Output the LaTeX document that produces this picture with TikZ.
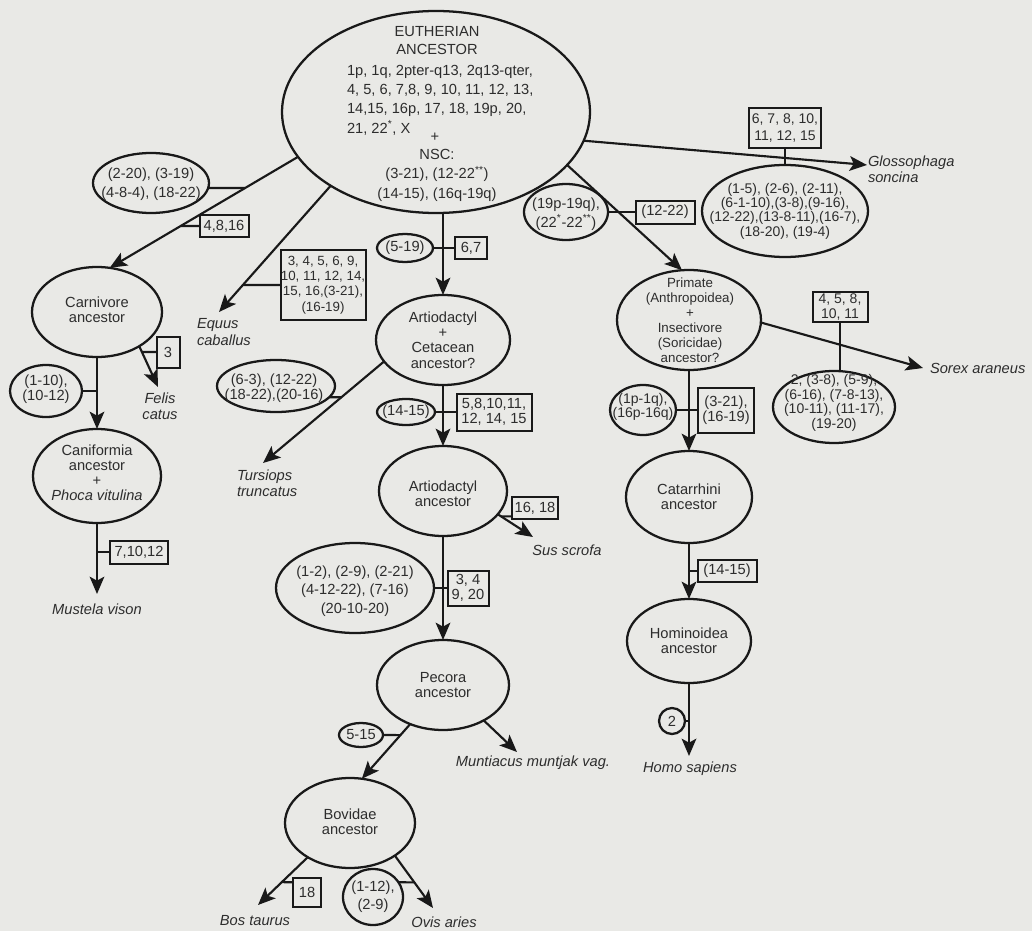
\documentclass[tikz,border=0pt]{standalone}
\usepackage{fontspec}
\setmainfont{Liberation Sans}
\usetikzlibrary{arrows.meta,shapes.geometric,calc}
\definecolor{bgc}{RGB}{233,233,230}
\definecolor{ink}{RGB}{25,25,25}
\definecolor{txt}{RGB}{45,45,45}
\newcommand\fntA{\fontsize{11}{11.5}\selectfont}
\newcommand\fntW{\fontsize{11}{14.2}\selectfont}
\newcommand\fntB{\fontsize{10}{11.5}\selectfont}
\newcommand\fntS{\fontsize{11}{11.8}\selectfont\itshape}
\begin{document}
\begin{tikzpicture}[x=0.75pt,y=-0.75pt,
  every node/.style={inner sep=0pt, outer sep=0pt, text=txt},
  el/.style 2 args={draw=ink, ellipse, line width=1.7pt, minimum width=#1*1.5pt, minimum height=#2*1.5pt},
  bx/.style 2 args={draw=ink, rectangle, line width=1.5pt, minimum width=#1*0.75pt, minimum height=#2*0.75pt, align=center, font=\fntA},
  lbl/.style={align=center, font=\fntA},
  spc/.style={align=center, font=\fntS},
  ln/.style={draw=ink, line width=1.6pt},
  ar/.style={draw=ink, line width=1.6pt, -{Stealth[length=13pt,width=11pt,inset=3pt]}},
]
\fill[bgc] (0,0) rectangle (1032,931);
\useasboundingbox (0,0) rectangle (1032,931);

% ---------------- Eutherian ancestor
\node[el={154}{101}] (eu) at (436,112) {};
\node[lbl, font=\fontsize{11}{13.5}\selectfont] (eut) at (437,41) {EUTHERIAN\\ANCESTOR};
\node[align=left, anchor=west, font=\fontsize{11}{14.5}\selectfont] (eul) at (347,100) {1p, 1q, 2pter-q13, 2q13-qter,\\4, 5, 6, 7,8, 9, 10, 11, 12, 13,\\14,15, 16p, 17, 18, 19p, 20,\\21, 22\textsuperscript{*}, X};
\node[lbl] (eup) at (435,137) {+};
\node[lbl, font=\fontsize{11}{14.6}\selectfont] (eun) at (437,175) {NSC:\\(3-21), (12-22\textsuperscript{**})\\(14-15), (16q-19q)};

% ---------------- Carnivore branch
\node[el={58}{30}] (n220) at (151,183) {};
\node[lbl, font=\fntW] (n220t) at (151,184) {(2-20), (3-19)\\(4-8-4), (18-22)};
\node[bx={49}{22}] (b4816) at (224,226) {4,8,16};
\node[el={65}{45}] (carn) at (97,312) {};
\node[lbl] (carnt) at (97,310) {Carnivore\\ancestor};
\node[bx={23}{31}] (b3) at (168,352) {3};
\node[spc] (felis) at (160,406) {Felis\\catus};
\node[el={36}{26}] (n110) at (46,391) {};
\node[lbl, font=\fontsize{11}{10}\selectfont] (n110t) at (46,389) {(1-10),\\(10-12)};
\node[el={64}{47}] (canif) at (97,476) {};
\node[lbl, font=\fontsize{11}{11.3}\selectfont] (caniftxt) at (97,473) {Caniformia\\ancestor\\+\\\textit{Phoca vitulina}};
\node[bx={58}{23}] (b71012) at (139,552) {7,10,12};
\node[spc] (mustela) at (97,609) {Mustela vison};

% ---------------- Equus
\node[spc, align=left, anchor=west, font=\fontsize{11}{12.8}\selectfont\itshape] (equus) at (197,332) {Equus\\caballus};
\node[bx={85}{70}, font=\fntB] (b3416) at (323,285) {3, 4, 5, 6, 9,\\10, 11, 12, 14,\\15, 16,(3-21),\\(16-19)};

% ---------------- Artiodactyl / Cetacean chain
\node[el={28}{14}] (n519) at (405,248) {};
\node[lbl] (n519t) at (405,248) {(5-19)};
\node[bx={32}{22}] (b67) at (471,248) {6,7};
\node[el={67}{45}] (ac) at (443,340) {};
\node[lbl] (act) at (443,340) {Artiodactyl\\+\\Cetacean\\ancestor?};
\node[el={59}{26}] (n63) at (276,386) {};
\node[lbl, font=\fontsize{11}{11.3}\selectfont] (n63t) at (274,388) {(6-3), (12-22)\\(18-22),(20-16)};
\node[spc, align=left, anchor=west] (tursiops) at (237,483) {Tursiops\\truncatus};
\node[el={29}{13}] (n1415) at (406,412) {};
\node[lbl] (n1415t) at (406,412) {(14-15)};
\node[bx={75}{37}] (b5810) at (494,412) {5,8,10,11,\\12, 14, 15};
\node[el={64}{45}] (art) at (443,491) {};
\node[lbl] (artt) at (443,494) {Artiodactyl\\ancestor};
\node[bx={46}{22}] (b1618) at (535,508) {16, 18};
\node[spc] (sus) at (567,550) {Sus scrofa};
\node[el={79}{45}] (n12) at (355,588) {};
\node[lbl, font=\fontsize{11}{14}\selectfont] (n12t) at (355,591) {(1-2), (2-9), (2-21)\\(4-12-22), (7-16)\\(20-10-20)};
\node[bx={41}{35}] (b349) at (468,588) {3, 4\\9, 20};
\node[el={66}{45}] (pec) at (443,685) {};
\node[lbl] (pect) at (443,685) {Pecora\\ancestor};
\node[el={22}{12}] (n515) at (361,735) {};
\node[lbl] (n515t) at (361,735) {5-15};
\node[spc] (munt) at (533,763) {Muntiacus muntjak vag.};
\node[el={65}{45}] (bov) at (350,823) {};
\node[lbl] (bovt) at (350,822) {Bovidae\\ancestor};
\node[bx={28}{29}] (b18) at (307,892) {18};
\node[spc] (bos) at (255,921) {Bos taurus};
\node[el={30}{28}] (n112) at (373,897) {};
\node[lbl, font=\fontsize{11}{13.5}\selectfont] (n112t) at (373,897) {(1-12),\\(2-9)};
\node[spc] (ovis) at (444,922) {Ovis aries};

% ---------------- Glossophaga
\node[bx={72}{40}, font=\fontsize{10.5}{12.5}\selectfont] (b678) at (785,128) {6, 7, 8, 10,\\11, 12, 15};
\node[spc, align=left, anchor=west] (gloss) at (868,169) {Glossophaga\\soncina};
\node[el={83}{46}] (n15) at (785,211) {};
\node[lbl, font=\fontsize{10.5}{10.8}\selectfont] (n15t) at (785,211) {(1-5), (2-6), (2-11),\\(6-1-10),(3-8),(9-16),\\(12-22),(13-8-11),(16-7),\\(18-20), (19-4)};

% ---------------- Primate branch
\node[el={42}{28}] (n19p) at (566,212) {};
\node[lbl, font=\fontsize{11}{14}\selectfont] (n19pt) at (566,214) {(19p-19q),\\(22\textsuperscript{*}-22\textsuperscript{**})};
\node[bx={59}{23}] (b1222) at (665,212) {(12-22)};
\node[el={72}{50}] (prim) at (689,320) {};
\node[lbl, font=\fontsize{10}{11.2}\selectfont] (primt) at (690,320) {Primate\\(Anthropoidea)\\+\\Insectivore\\(Soricidae)\\ancestor?};
\node[bx={55}{30}, font=\fontsize{10.5}{10.8}\selectfont] (b458) at (840,307) {4, 5, 8,\\10, 11};
\node[spc, anchor=west] (sorex) at (930,368) {Sorex araneus};
\node[el={61}{36}] (n238) at (834,407) {};
\node[lbl, font=\fontsize{10.5}{11}\selectfont] (n238t) at (834,403) {2, (3-8), (5-9),\\(6-16), (7-8-13),\\(10-11), (11-17),\\(19-20)};
\node[el={33}{25}] (n1p) at (643,410) {};
\node[lbl, font=\fontsize{10.5}{10}\selectfont] (n1pt) at (643,407) {(1p-1q),\\(16p-16q)};
\node[bx={56}{45}] (b321) at (726,410) {(3-21),\\(16-19)};
\node[el={63}{46}] (cat) at (689,497) {};
\node[lbl] (catt) at (689,497) {Catarrhini\\ancestor};
\node[bx={59}{22}] (b1415) at (727,571) {(14-15)};
\node[el={62}{42}] (hom) at (689,641) {};
\node[lbl] (homt) at (689,641) {Hominoidea\\ancestor};
\node[el={13}{13}] (n2) at (672,721) {};
\node[lbl] (n2t) at (672,721) {2};
\node[spc] (homo) at (690,769) {Homo sapiens};

% ---------------- free arrow ends
\coordinate (felis-tip) at (158,387);
\coordinate (mustela-tip) at (97,594);
\coordinate (equus-tip) at (219,312);
\coordinate (tursiops-tip) at (263,463);
\coordinate (sus-tip) at (533,537);
\coordinate (munt-tip) at (517,752);
\coordinate (bos-tip) at (258,905);
\coordinate (ovis-tip) at (433,908);
\coordinate (gloss-tip) at (867,165);
\coordinate (sorex-tip) at (923,368);
\coordinate (homo-tip) at (689,756);

% ---------------- arrows
\draw[ar] (eu.198) -- (carn.74);
\draw[ar] (eu.215) -- (equus-tip);
\draw[ar] (ac.north |- eu.south) -- (ac.north);
\draw[ar] (eu.338) -- (prim.98);
\draw[ar] (eu.349) -- (gloss-tip);
\draw[ar] (carn.321) -- (felis-tip);
\draw[ar] (carn.south) -- (canif.north);
\draw[ar] (canif.south) -- (mustela-tip);
\draw[ar] (ac.200) -- (tursiops-tip);
\draw[ar] (ac.south) -- (art.north);
\draw[ar] (art.337) -- (sus-tip);
\draw[ar] (art.south) -- (pec.north);
\draw[ar] (pec.319) -- (munt-tip);
\draw[ar] (pec.230) -- (bov.75);
\draw[ar] (bov.219) -- (bos-tip);
\draw[ar] (bov.324) -- (ovis-tip);
\draw[ar] (prim.358) -- (sorex-tip);
\draw[ar] (prim.south) -- (cat.north);
\draw[ar] (cat.south) -- (hom.north);
\draw[ar] (hom.south) -- (homo-tip);

% ---------------- stubs
\draw[ln] (n220.355) -- (intersection of n220.355--n220.185 and eu.198--carn.74);
\draw[ln] (b4816.west) -- (intersection of b4816.center--b4816.west and eu.198--carn.74);
\draw[ln] (b3.west) -- (intersection of b3.center--b3.west and carn.321--felis-tip);
\draw[ln] (n110.east) -- (n110.east -| carn.south);
\draw[ln] (b71012.west) -- (b71012.west -| canif.south);
\draw[ln] (b3416.west) -- (intersection of b3416.center--b3416.west and eu.215--equus-tip);
\draw[ln] (n519.east) -- (b67.west);
\draw[ln] (n63.348) -- (intersection of n63.348--n63.192 and ac.200--tursiops-tip);
\draw[ln] (n1415.east) -- (b5810.west);
\draw[ln] (b1618.200) -- (intersection of b1618.200--b1618.340 and art.337--sus-tip);
\draw[ln] (n12.east) -- (b349.west);
\draw[ln] (n515.east) -- (intersection of n515.center--n515.east and pec.230--bov.75);
\draw[ln] (b18.145) -- (intersection of b18.145--b18.35 and bov.219--bos-tip);
\draw[ln] (n112.30) -- (intersection of n112.30--n112.150 and bov.324--ovis-tip);
\draw[ln] (b678.south) -- (n15.north);
\draw[ln] (n19p.east) -- (b1222.west);
\draw[ln] (b458.south) -- (b458.south |- n238.north);
\draw[ln] (n1p.east) -- (b321.west);
\draw[ln] (b1415.west) -- (b1415.west -| cat.south);
\draw[ln] (n2.east) -- (n2.east -| hom.south);
\end{tikzpicture}
\end{document}
